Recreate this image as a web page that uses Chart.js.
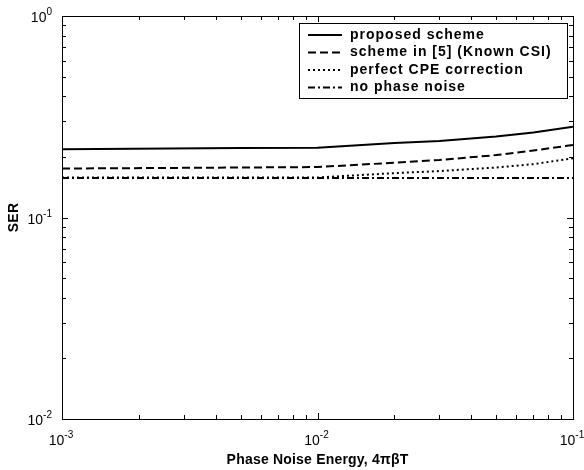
<!DOCTYPE html>
<html>
<head>
<meta charset="utf-8">
<script src="https://cdn.jsdelivr.net/npm/chart.js@4"></script>
<style>
  body { margin: 0; background: #fff; }
</style>
</head>
<body>
<canvas id="myChart" width="584" height="470"></canvas>
<script>
  // phase noise energy values (x axis)
  const noiseEnergy = [0.001, 0.005, 0.01, 0.02, 0.03, 0.05, 0.07, 0.1];

  // SER
  const proposedSER = [0.218, 0.221, 0.222, 0.234, 0.240, 0.252, 0.264, 0.282];
  const knownCsiSER = [0.175, 0.177, 0.178, 0.187, 0.193, 0.204, 0.215, 0.229];
  const perfectCpeSER = [0.158, 0.158, 0.158, 0.166, 0.170, 0.177, 0.184, 0.197];
  const noPhaseNoiseSER = [0.157, 0.157, 0.157, 0.157, 0.157, 0.157, 0.157, 0.157];

  const seriesNames = ['proposed scheme', 'scheme in [5] (Known CSI)', 'perfect CPE correction', 'no phase noise'];
  const xTickPowers = [-3, -2, -1];
  const yTickPowers = [-2, -1, 0];

  const toPoints = arr => arr.map((v, i) => ({ x: noiseEnergy[i], y: v }));

  function makeSet(label, values, dash, width) {
    return {
      label: label,
      data: toPoints(values),
      borderColor: '#000',
      borderWidth: width,
      borderDash: dash,
      pointRadius: 0,
      fill: false,
      tension: 0
    };
  }

  // ticks, power-of-ten labels, frame and boxed legend
  const matlabAxes = {
    id: 'matlabAxes',
    afterDraw(chart) {
      const ctx = chart.ctx;
      const a = chart.chartArea;
      const xs = chart.scales.x, ys = chart.scales.y;
      ctx.save();
      ctx.strokeStyle = '#000';
      ctx.lineWidth = 1;
      ctx.setLineDash([]);

      // frame
      ctx.strokeRect(a.left + 0.5, a.top + 0.5, a.right - a.left, a.bottom - a.top);

      // inward ticks
      ctx.beginPath();
      for (let p = xTickPowers[0]; p < xTickPowers[xTickPowers.length - 1] + 1; p++) {
        for (let m = 1; m <= 9; m++) {
          const v = m * Math.pow(10, p);
          if (v > Math.pow(10, xTickPowers[xTickPowers.length - 1]) + 1e-12) break;
          const px = Math.round(xs.getPixelForValue(v)) + 0.5;
          const len = m === 1 ? 6 : 4;
          ctx.moveTo(px, a.bottom); ctx.lineTo(px, a.bottom - len);
          ctx.moveTo(px, a.top); ctx.lineTo(px, a.top + len);
        }
      }
      for (let p = yTickPowers[0]; p < yTickPowers[yTickPowers.length - 1] + 1; p++) {
        for (let m = 1; m <= 9; m++) {
          const v = m * Math.pow(10, p);
          if (v > Math.pow(10, yTickPowers[yTickPowers.length - 1]) + 1e-12) break;
          const py = Math.round(ys.getPixelForValue(v)) + 0.5;
          const len = m === 1 ? 6 : 4;
          ctx.moveTo(a.left, py); ctx.lineTo(a.left + len, py);
          ctx.moveTo(a.right, py); ctx.lineTo(a.right - len, py);
        }
      }
      ctx.stroke();

      // tick labels like 10^-2
      ctx.fillStyle = '#000';
      function powLabel(x, y, p, align) {
        ctx.font = '14px "Liberation Sans", Arial, sans-serif';
        const base = '10';
        const expText = p === 0 ? '0' : '-' + Math.abs(p);
        const bw = ctx.measureText(base).width;
        ctx.font = '10px "Liberation Sans", Arial, sans-serif';
        const ew = ctx.measureText(expText).width;
        let left = align === 'right' ? x - bw - ew : x - (bw + ew) / 2;
        ctx.textBaseline = 'alphabetic';
        ctx.textAlign = 'left';
        ctx.font = '14px "Liberation Sans", Arial, sans-serif';
        ctx.fillText(base, left, y);
        ctx.font = '10px "Liberation Sans", Arial, sans-serif';
        ctx.fillText(expText, left + bw, y - 7);
      }
      xTickPowers.forEach(p => {
        powLabel(xs.getPixelForValue(Math.pow(10, p)) - 1, a.bottom + 26, p, 'center');
      });
      yTickPowers.forEach(p => {
        powLabel(a.left - 10, ys.getPixelForValue(Math.pow(10, p)) + 6, p, 'right');
      });

      // axis titles
      ctx.font = 'bold 14px "Liberation Sans", Arial, sans-serif';
      ctx.letterSpacing = '0.2px';
      ctx.textAlign = 'center';
      ctx.textBaseline = 'middle';
      ctx.fillText('Phase Noise Energy, 4\u03C0\u03B2T', (a.left + a.right) / 2, a.bottom + 41);
      ctx.save();
      ctx.translate(14, ys.getPixelForValue(0.1));
      ctx.rotate(-Math.PI / 2);
      ctx.fillText('SER', 0, 0);
      ctx.restore();

      // legend box
      const lx = 299, ly = 23, lw = 268, lh = 75;
      ctx.fillStyle = '#fff';
      ctx.fillRect(lx, ly, lw, lh);
      ctx.strokeStyle = '#000';
      ctx.lineWidth = 1;
      ctx.strokeRect(lx + 0.5, ly + 0.5, lw, lh);
      ctx.font = 'bold 14px "Liberation Sans", Arial, sans-serif';
      ctx.letterSpacing = '1px';
      ctx.textAlign = 'left';
      ctx.textBaseline = 'middle';
      chart.data.datasets.forEach((ds, i) => {
        const ry = ly + 12 + i * 17.5;
        ctx.setLineDash(ds.borderDash);
        ctx.lineWidth = ds.borderWidth;
        ctx.beginPath();
        ctx.moveTo(lx + 9, ry);
        ctx.lineTo(lx + 43, ry);
        ctx.stroke();
        ctx.setLineDash([]);
        ctx.fillStyle = '#000';
        ctx.fillText(ds.label, lx + 51, ry);
      });
      ctx.restore();
    }
  };

  const ctx = document.getElementById('myChart').getContext('2d');
  const chart = new Chart(ctx, {
    type: 'line',
    data: {
      datasets: [
        makeSet(seriesNames[0], proposedSER, [], 2),
        makeSet(seriesNames[1], knownCsiSER, [8, 4], 2),
        makeSet(seriesNames[2], perfectCpeSER, [2, 3], 2),
        makeSet(seriesNames[3], noPhaseNoiseSER, [7, 3, 2, 3], 2)
      ]
    },
    options: {
      responsive: false,
      animation: false,
      devicePixelRatio: 1,
      layout: { padding: { left: 62, right: 11, top: 16, bottom: 51 } },
      plugins: {
        legend: { display: false },
        tooltip: { enabled: false }
      },
      scales: {
        x: {
          type: 'logarithmic',
          min: Math.pow(10, xTickPowers[0]),
          max: Math.pow(10, xTickPowers[xTickPowers.length - 1]),
          grid: { display: false, drawTicks: false },
          border: { display: false },
          ticks: { display: false }
        },
        y: {
          type: 'logarithmic',
          min: Math.pow(10, yTickPowers[0]),
          max: Math.pow(10, yTickPowers[yTickPowers.length - 1]),
          grid: { display: false, drawTicks: false },
          border: { display: false },
          ticks: { display: false }
        }
      }
    },
    plugins: [matlabAxes]
  });
</script>
</body>
</html>
